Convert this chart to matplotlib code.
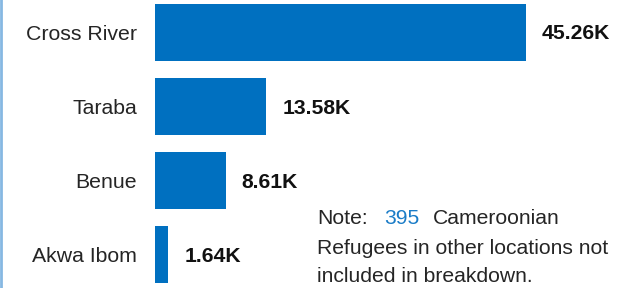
import matplotlib.pyplot as plt
from matplotlib.lines import Line2D

regions = ['Cross River', 'Taraba', 'Benue', 'Akwa Ibom']
refugees_k = [45.26, 13.58, 8.61, 1.64]
value_labels = ['45.26K', '13.58K', '8.61K', '1.64K']
other_locations = 395

plt.rcParams['font.family'] = ['Liberation Sans', 'DejaVu Sans']

W, H = 637, 288
fig = plt.figure(figsize=(W / 100, H / 100), dpi=100)
ax = fig.add_axes([155 / W, 0, 1 - 155 / W, 1])

ypos = list(range(len(regions)))
ax.barh(ypos, refugees_k, height=0.77, color='#0070c0')
ax.set_xlim(0, (W - 155) / (371 / 45.26))
ax.set_ylim((H - 32.5) / 74, -32.5 / 74)
ax.axis('off')

for y, v, lab in zip(ypos, refugees_k, value_labels):
    ax.annotate(lab, (v, y), xytext=(16, -1.5), textcoords='offset pixels',
                ha='left', va='center', fontsize=15.2, fontweight='bold', color='#111111')
for y, name in zip(ypos, regions):
    ax.annotate(name, (0, y), xytext=(-18, -2.5), textcoords='offset pixels',
                ha='right', va='center', fontsize=15.3, color='#252525')

# note in lower right
fs = 15.2
txt = '#252525'
fig.text(317 / W, 1 - 219 / H, 'Note:', fontsize=fs, color=txt, va='center')
fig.text(384 / W, 1 - 218 / H, str(other_locations), fontsize=fs, color='#1a7cc7', va='center')
fig.text(433 / W, 1 - 219 / H, 'Cameroonian', fontsize=fs, color=txt, va='center')
fig.text(317 / W, 1 - 248 / H, 'Refugees in other locations not', fontsize=fs, color=txt, va='center')
fig.text(317 / W, 1 - 276 / H, 'included in breakdown.', fontsize=fs, color=txt, va='center')

# left border
fig.add_artist(Line2D([1.5 / W, 1.5 / W], [0, 1], transform=fig.transFigure,
                      color='#86b8e2', linewidth=2))

fig.savefig('out.png', dpi=100)
